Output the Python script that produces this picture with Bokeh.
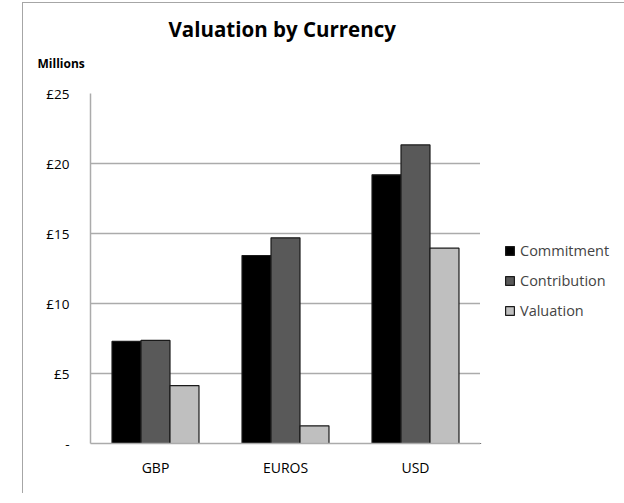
from bokeh.plotting import figure
from bokeh.layouts import row
from bokeh.models import (FactorRange, Range1d, FixedTicker, Legend, LegendItem,
                          Title, ColumnDataSource)
from bokeh.transform import dodge
from bokeh.embed import file_html
from bokeh.resources import INLINE

currencies = ["GBP", "EUROS", "USD"]
commitment = [7.29, 13.43, 19.19]
contribution = [7.36, 14.69, 21.33]
valuation = [4.14, 1.26, 13.95]
series_names = ["Commitment", "Contribution", "Valuation"]
series_colors = ["#000000", "#595959", "#BFBFBF"]
y_ticks = [0, 5, 10, 15, 20, 25]
y_tick_labels = ["-", "£5", "£10", "£15", "£20", "£25"]

FONT = "Open Sans"
H = 490

src = ColumnDataSource(dict(cur=currencies, commitment=commitment,
                            contribution=contribution, valuation=valuation))

p = figure(x_range=FactorRange(*currencies), y_range=Range1d(0, 25), title=None,
           width=457, height=H, output_backend="svg", toolbar_location=None,
           min_border_left=67, min_border_right=0, min_border_top=90,
           min_border_bottom=50)
p.outline_line_color = None
p.background_fill_color = "white"
p.border_fill_color = "white"

bw = 0.223
for i, (key, col) in enumerate(zip(["commitment", "contribution", "valuation"], series_colors)):
    p.vbar(x=dodge("cur", (i - 1) * bw, range=p.x_range), top=key, width=bw,
           source=src, fill_color=col, line_color="#1a1a1a", line_width=1.2)

# axes
p.xaxis.major_tick_line_color = None
p.xaxis.minor_tick_line_color = None
p.xaxis.axis_line_color = "#ABABAB"
p.xaxis.axis_line_width = 1.5
p.xaxis.major_label_standoff = 8
p.xaxis.major_label_text_font = FONT
p.xaxis.major_label_text_font_size = "14px"
p.xaxis.major_label_text_color = "#000000"

p.yaxis.ticker = FixedTicker(ticks=y_ticks)
p.yaxis.major_label_overrides = {t: l for t, l in zip(y_ticks, y_tick_labels)}
p.yaxis.major_tick_line_color = None
p.yaxis.minor_tick_line_color = None
p.yaxis.axis_line_color = "#ABABAB"
p.yaxis.axis_line_width = 1.5
p.yaxis.major_label_standoff = 15
p.yaxis.major_label_text_font = FONT
p.yaxis.major_label_text_font_size = "13.5px"
p.yaxis.major_label_text_color = "#000000"

p.xgrid.grid_line_color = None
p.ygrid.grid_line_color = "#ABABAB"
p.ygrid.grid_line_width = 1.5

# unit label (closest to frame) and chart title
p.add_layout(Title(text="Millions", text_font=FONT, text_font_style="bold",
                   text_font_size="12px", align="left", offset=-53, standoff=44,
                   text_color="#000000"), "above")
p.add_layout(Title(text="Valuation by Currency", text_font=FONT, text_font_style="bold",
                   text_font_size="20.5px", align="left", offset=78, standoff=-25,
                   text_color="#000000"), "above")

# legend panel to the right of the plot area
lp = figure(width=144, height=H, x_range=Range1d(1, 145), y_range=Range1d(1, H + 1),
            x_axis_type=None, y_axis_type=None, output_backend="svg",
            toolbar_location=None, min_border=0, title=None)
lp.outline_line_color = None
lp.background_fill_color = "white"
lp.border_fill_color = "white"
lp.xgrid.visible = False
lp.ygrid.visible = False
items = []
for name, col in zip(series_names, series_colors):
    # legend proxy (degenerate, outside the visible range)
    r = lp.vbar(x=[0], top=[0], width=0, fill_color=col, line_color="#1a1a1a", line_width=1.2)
    items.append(LegendItem(label=name, renderers=[r]))
legend = Legend(items=items, location=(24, 123), orientation="vertical",
                glyph_width=11, glyph_height=11, label_height=11, spacing=11,
                label_standoff=5, padding=0, margin=0,
                label_text_font=FONT, label_text_font_size="14.5px",
                border_line_color=None, background_fill_alpha=0)
lp.add_layout(legend)

layout = row(p, lp, margin=(2, 0, 0, 22),
             styles={"border-top": "1px solid #A6A6A6", "border-left": "1px solid #A6A6A6"})

open("out.html", "w").write(file_html(layout, INLINE))
